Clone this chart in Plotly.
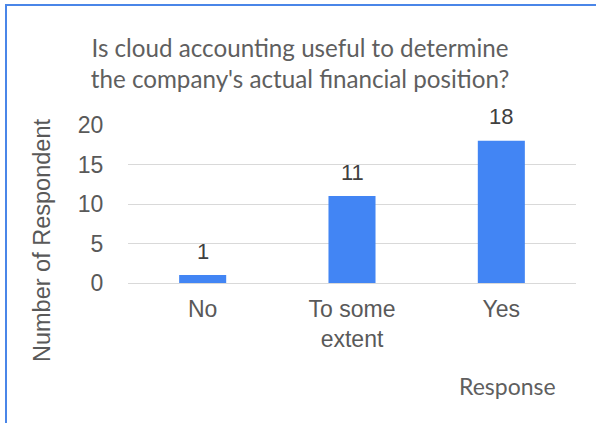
import plotly.graph_objects as go

# data
responses = ["No", "To some<br>extent", "Yes"]
counts = [1, 11, 18]
y_ticks = [0, 5, 10, 15, 20]

title_text = "Is cloud accounting useful to determine<br>the company's actual financial position?"

fig = go.Figure()
fig.add_trace(go.Bar(
    x=responses,
    y=counts,
    marker=dict(color="#4285F4", line=dict(width=0)),
    width=0.315,
))

# value labels above the bars
for r, c in zip(responses, counts):
    fig.add_annotation(
        x=r, y=c, text=str(c), showarrow=False,
        yanchor="middle", yshift=24,
        font=dict(family="Liberation Sans, Arial", size=22, color="#404040"),
    )

fig.update_layout(
    width=596, height=423,
    margin=dict(l=128, r=20, t=125, b=140),
    paper_bgcolor="white", plot_bgcolor="white",
    showlegend=False,
    title=dict(
        text=title_text,
        x=300 / 596, xanchor="center", xref="container",
        y=1 - 57 / 423, yanchor="middle",
        font=dict(family="Lato, Carlito, sans-serif", size=24.2, color="#5f5f5f"),
    ),
)

fig.update_yaxes(
    range=[0, 20],
    tickvals=y_ticks,
    showgrid=True, gridcolor="#d9d9d9", gridwidth=1,
    zeroline=True, zerolinecolor="#d9d9d9", zerolinewidth=1,
    showline=False,
    ticks="outside", ticklen=19, tickcolor="rgba(0,0,0,0)",
    tickfont=dict(family="Liberation Sans, Arial", size=23, color="#595959"),
)
fig.update_xaxes(
    showgrid=False, showline=False,
    ticks="outside", ticklen=5, tickcolor="rgba(0,0,0,0)",
    tickfont=dict(family="Liberation Sans, Arial", size=23, color="#595959"),
)

# axis titles
fig.add_annotation(
    text="Number of Respondent", textangle=-90,
    xref="paper", yref="paper",
    x=(42 - 128) / 448, y=(283 - 241) / 158,
    showarrow=False, xanchor="center", yanchor="middle",
    font=dict(family="Liberation Sans, Arial", size=23.5, color="#595959"),
)
fig.add_annotation(
    text="Response",
    xref="paper", yref="paper",
    x=(507 - 128) / 448, y=(283 - 386) / 158,
    showarrow=False, xanchor="center", yanchor="middle",
    font=dict(family="Lato, Carlito, sans-serif", size=23, color="#5f5f5f"),
)

# chart border (only left and top edges fall inside the picture)
fig.add_shape(type="rect", xref="paper", yref="paper",
              x0=(6 - 128) / 448, x1=(640 - 128) / 448,
              y0=(283 - 5) / 158, y1=(283 - 460) / 158,
              line=dict(color="#4a86e8", width=2), fillcolor="rgba(0,0,0,0)")

fig.write_html("out.html", config={"displayModeBar": False},
               post_script="document.body.style.margin='0';")
